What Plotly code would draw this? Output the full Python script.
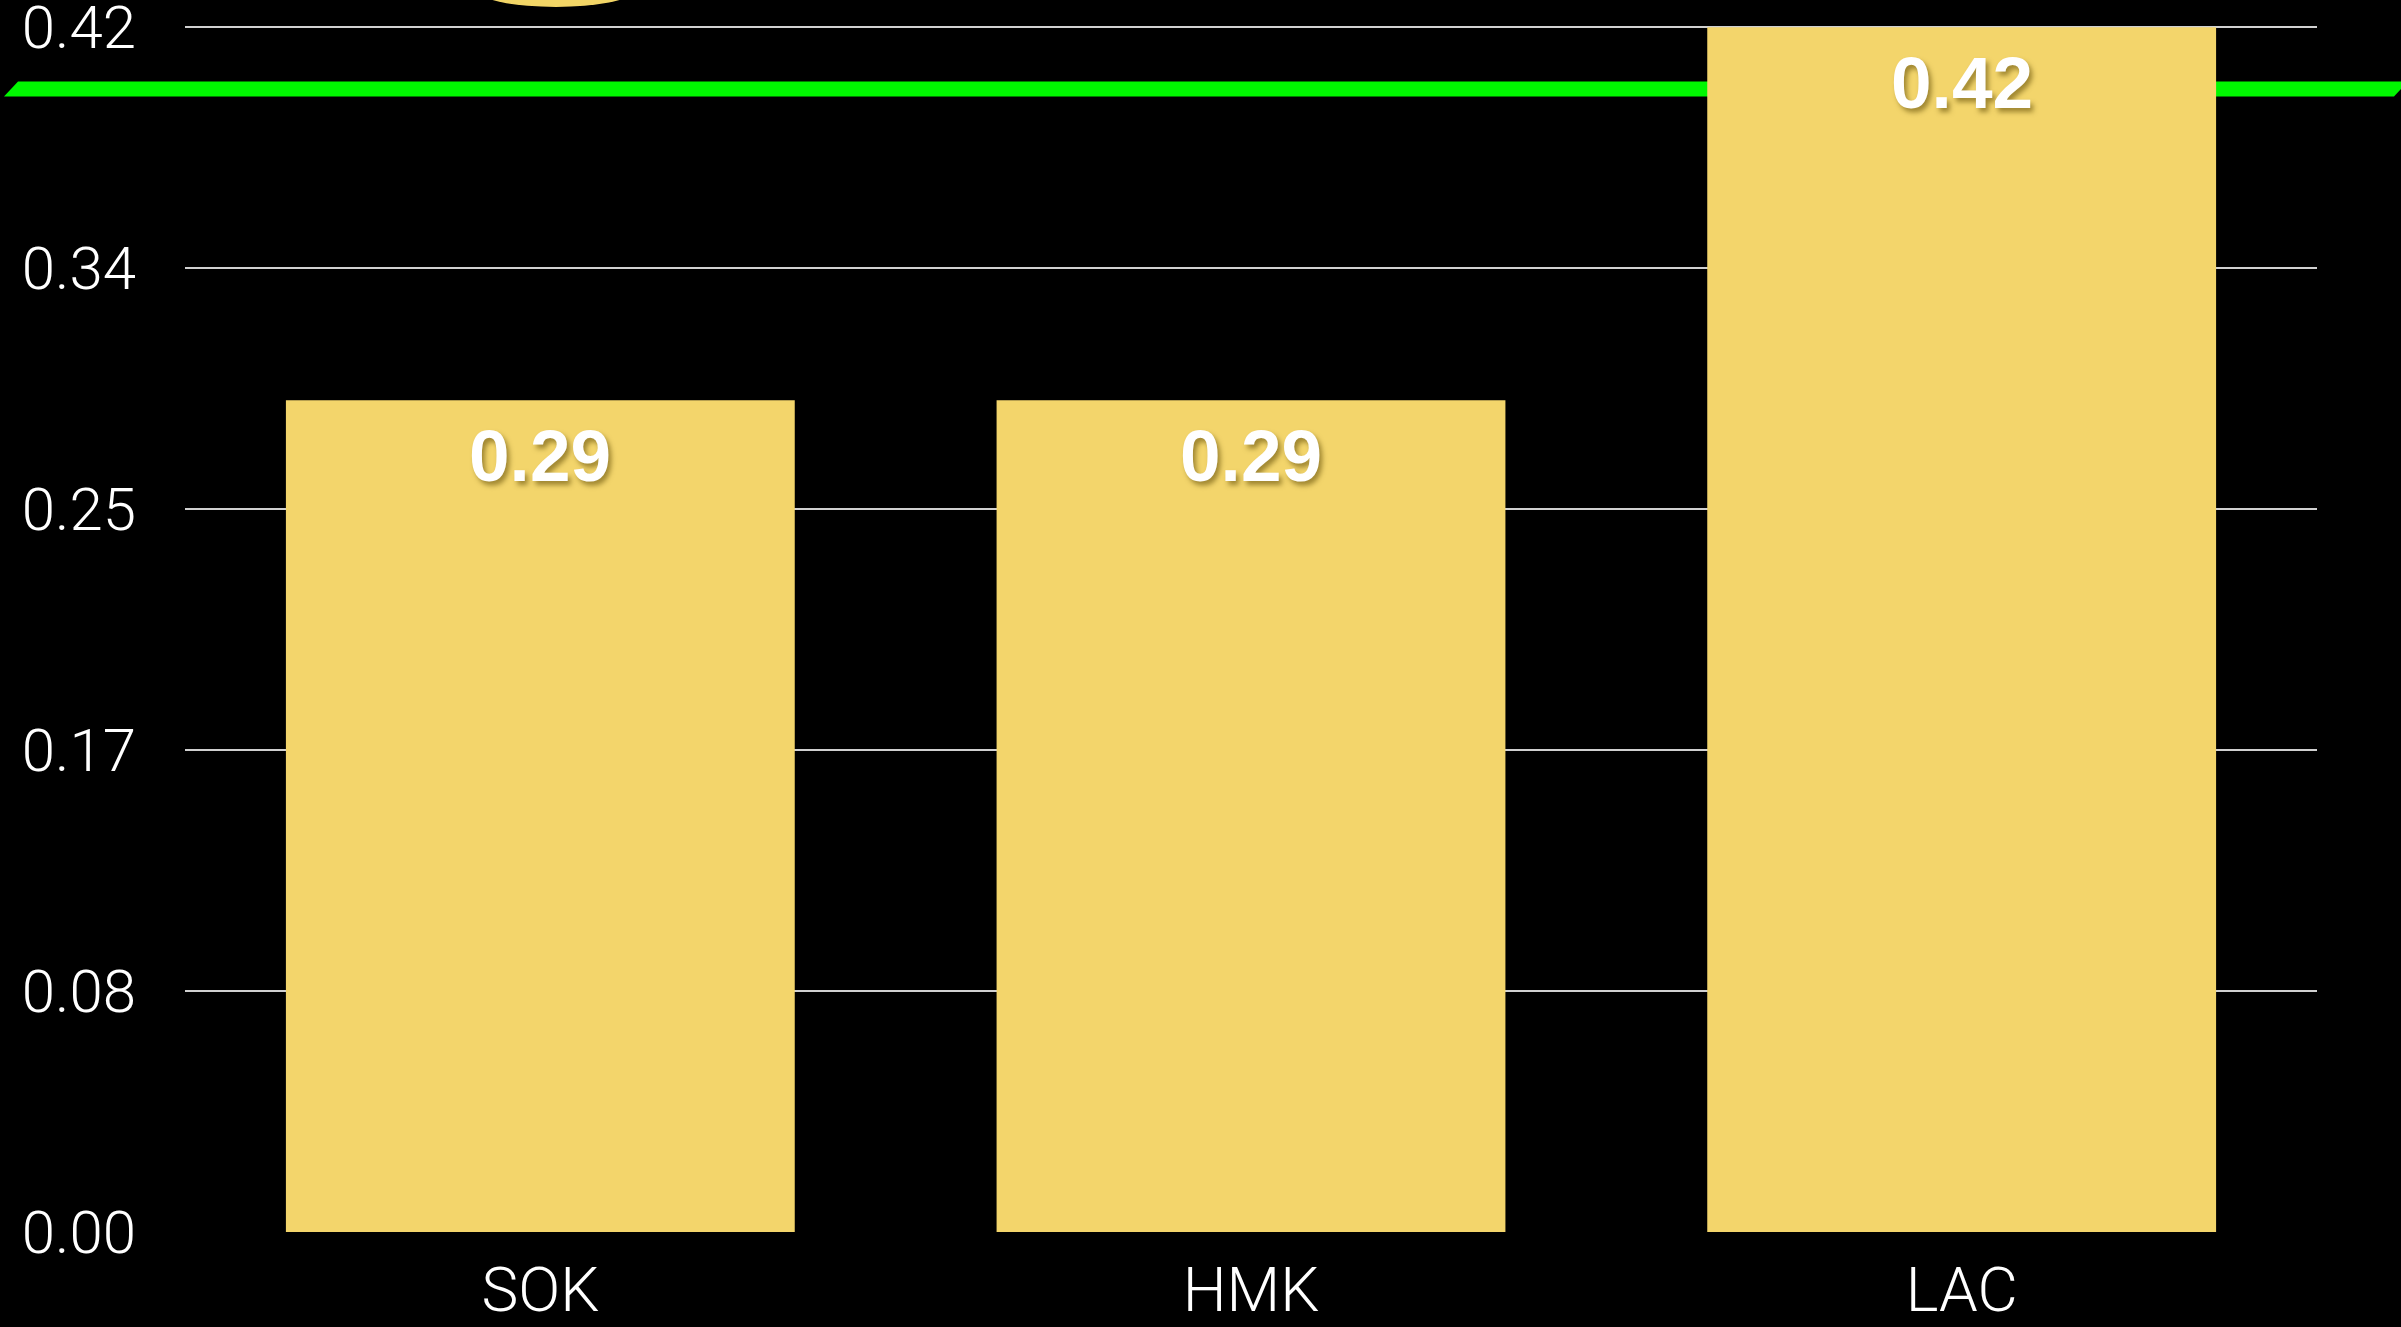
import plotly.graph_objects as go

categories = ["SOK", "HMK", "LAC"]
values = [0.29, 0.29, 0.42]
value_labels = ["0.29", "0.29", "0.42"]
tick_values = [0.0, 0.084, 0.168, 0.252, 0.336, 0.42]
tick_labels = ["0.00", "0.08", "0.17", "0.25", "0.34", "0.42"]
target_value = 0.3985
y_max = 0.42
y_top = 0.4208

W, H = 2401, 1327
ML, MR, MT, MB = 185, 84, 25, 95
plot_w = W - ML - MR
plot_h = H - MT - MB

BAR_COLOR = "#F3D56B"
GREEN = "#00F800"

fig = go.Figure()
fig.add_trace(go.Bar(
    x=categories, y=values,
    marker=dict(color=BAR_COLOR, line=dict(width=0)),
    width=0.716,
    hoverinfo="skip",
))

# value labels inside top of bars
for c, v, t in zip(categories, values, value_labels):
    fig.add_annotation(
        x=c, y=v, xref="x", yref="y", text=t, showarrow=False,
        yanchor="top", yshift=-13,
        font=dict(family="Liberation Sans, Arial, sans-serif", size=73,
                  color="white", weight="bold",
                  shadow="3px 4px 5px rgba(90,70,0,0.55)"),
    )

# green target band (slanted parallelogram), positioned from target value
tc = target_value / y_top
half = 7.5 / plot_h
slant = 14 / plot_w
xl = -181 / plot_w
xr = 2209 / plot_w
path = (f"M {xl + slant},{tc + half} L {xr + slant},{tc + half} "
        f"L {xr},{tc - half} L {xl},{tc - half} Z")
fig.add_shape(type="path", path=path, xref="paper", yref="paper",
              fillcolor=GREEN, line=dict(width=0), layer="between")

# decorative yellow disc partially off the top edge
cx = (556 - ML) / plot_w
fig.add_shape(type="circle", xref="paper", yref="paper",
              x0=cx - 75 / plot_w, x1=cx + 75 / plot_w,
              y0=1 + (MT - 7) / plot_h, y1=1 + (MT + 23) / plot_h,
              fillcolor="#F2D566", line=dict(width=0), layer="above")

fig.update_layout(
    width=W, height=H,
    margin=dict(l=ML, r=MR, t=MT, b=MB, pad=0, autoexpand=False),
    paper_bgcolor="black", plot_bgcolor="black",
    showlegend=False,
    bargap=0.284,
    xaxis=dict(
        showgrid=False, zeroline=False, showline=False, automargin=False,
        ticks="", ticklabelstandoff=16,
        tickfont=dict(family="Roboto, Liberation Sans, sans-serif", size=62,
                      color="white", weight=300),
    ),
    yaxis=dict(
        range=[0, y_top], automargin=False,
        tickvals=tick_values, ticktext=tick_labels,
        showgrid=True, gridcolor="#D0D0D0", gridwidth=2,
        zeroline=False, showline=False,
        ticks="", ticklabelstandoff=48,
        ticklabeloverflow="allow",
        tickfont=dict(family="Roboto, Liberation Sans, sans-serif", size=60,
                      color="white", weight=300),
    ),
)

fig.write_html(
    "out.html",
    config={"displayModeBar": False, "staticPlot": True},
    post_script="document.body.style.margin='0';"
                "document.body.style.background='black';"
                "document.body.style.overflow='hidden';",
)
